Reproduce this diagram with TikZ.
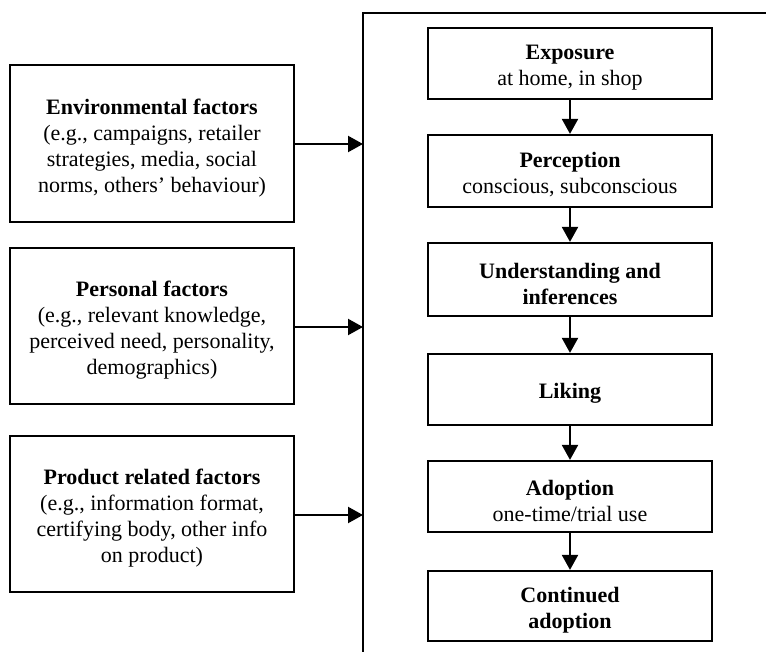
\documentclass[tikz,border=0pt]{standalone}
\usepackage{fontspec}
\setmainfont{Liberation Serif}
\usetikzlibrary{arrows.meta}
\begin{document}
\begin{tikzpicture}[x=1pt,y=-1pt,
  box/.style={draw,line width=2.2pt,rectangle,minimum width=284pt,inner sep=0pt},
  txt/.style={align=center,inner sep=0pt,font=\fontsize{22}{26}\selectfont},
  arr/.style={line width=2.2pt,-{Triangle[length=15pt,width=16pt]}},
  frame/.style={line width=2.2pt}]
\useasboundingbox (0,0) rectangle (766,652);
% left factor boxes
\node[box,minimum height=157pt] (env) at (152,143.5) {};
\node[txt] (envt) at ([yshift=-4.5pt]env.center) {\textbf{Environmental factors}\\(e.g., campaigns, retailer\\strategies, media, social\\norms, others’ behaviour)};
\node[box,minimum height=156pt] (pers) at (152,326) {};
\node[txt] (perst) at ([yshift=-4.5pt]pers.center) {\textbf{Personal factors}\\(e.g., relevant knowledge,\\perceived need, personality,\\demographics)};
\node[box,minimum height=156pt] (prod) at (152,514) {};
\node[txt] (prodt) at ([yshift=-4.5pt]prod.center) {\textbf{Product related factors}\\(e.g., information format,\\certifying body, other info\\on product)};
% frame
\coordinate (fb) at (363,652);
\coordinate (ft) at (363,13);
\coordinate (fr) at (766,13);
\draw[frame] (fb) -- (ft) -- (fr);
\coordinate (t1) at (363,144);
\coordinate (t2) at (363,327);
\coordinate (t3) at (363,515);
\draw[arr] (env.east |- t1) -- (t1);
\draw[arr] (pers.east |- t2) -- (t2);
\draw[arr] (prod.east |- t3) -- (t3);
% process boxes
\node[box,minimum height=71pt] (expo) at (570,63.5) {};
\node[txt] (expot) at ([yshift=-4pt]expo.center) {\textbf{Exposure}\\at home, in shop};
\node[box,minimum height=72pt] (perc) at (570,171) {};
\node[txt] (perct) at ([yshift=-4pt]perc.center) {\textbf{Perception}\\conscious, subconscious};
\node[box,minimum height=73pt] (und) at (570,279.5) {};
\node[txt] (undt) at ([yshift=-4pt]und.center) {\textbf{Understanding and}\\\textbf{inferences}};
\node[box,minimum height=71pt] (lik) at (570,389.5) {};
\node[txt] (likt) at ([yshift=-4pt]lik.center) {\textbf{Liking}};
\node[box,minimum height=71pt] (adop) at (570,496.5) {};
\node[txt] (adopt) at ([yshift=-4pt]adop.center) {\textbf{Adoption}\\one-time/trial use};
\node[box,minimum height=70pt] (cont) at (570,606) {};
\node[txt] (contt) at ([yshift=-4pt]cont.center) {\textbf{Continued}\\\textbf{adoption}};
\draw[arr] (expo) -- (perc);
\draw[arr] (perc) -- (und);
\draw[arr] (und) -- (lik);
\draw[arr] (lik) -- (adop);
\draw[arr] (adop) -- (cont);
\end{tikzpicture}
\end{document}
